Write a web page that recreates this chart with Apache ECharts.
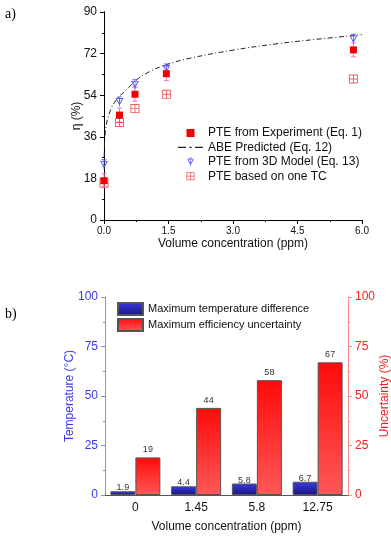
<!DOCTYPE html>
<html>
<head>
<meta charset="utf-8">
<script src="https://cdn.jsdelivr.net/npm/echarts@6/dist/echarts.min.js"></script>
<style>
  html, body { margin: 0; padding: 0; background: #fff; }
  #chart { width: 391px; height: 547px; }
</style>
</head>
<body>
<div id="chart"></div>
<script>
// (a) photothermal efficiency vs volume concentration
const concX = [0, 0.36, 0.72, 1.45, 5.8];
const pteExperiment = [17.0, 45.4, 54.4, 63.3, 73.6];
const pteExperimentErr = [3, 3, 3, 3, 3];
const pte3DModel = [24.1, 51.3, 58.7, 65.6, 78.4];
const pteOneTC = [16.0, 42.2, 48.2, 54.4, 61.0];
// ABE prediction, points
const abeX = [0.005, 0.03, 0.15, 0.33, 0.48, 0.75, 1.06, 1.45, 2.0, 3.0, 4.0, 5.0, 6.0];
const abeY = [27, 38, 47.5, 53, 55.5, 60.5, 64.2, 67.2, 70, 73.5, 76.2, 78.3, 80.2];
const xTicksTop = [0, 1.5, 3.0, 4.5, 6.0];

// (b) uncertainty bars
const concLabels = ["0", "1.45", "5.8", "12.75"];
const maxTempDiff = [1.9, 4.4, 5.8, 6.7];
const maxEffUnc = [19, 44, 58, 67];

const FONT = "Liberation Sans, Arial, sans-serif";

const SQUARE = "path://M0,0H10V10H0Z";
const BOX_CROSS =
  "path://M0,0H10V10H0Z M1,1V4.5H4.5V1Z M5.5,1V4.5H9V1Z M1,5.5V9H4.5V5.5Z M5.5,5.5V9H9V5.5Z";
const FUNNEL =
  "path://M2,0H8V1H2Z M4.5,0H5.5V12H4.5Z M0,2H10L5,11Z M1.9,3L5,8.6L8.1,3Z";
const DASH_DOT = "path://M0,0H7V1H0Z M10,0H12V1H10Z M15,0H22V1H15Z";

const errData = concX.map((x, i) => [
  x,
  pteExperiment[i] - pteExperimentErr[i],
  pteExperiment[i] + pteExperimentErr[i],
]);

const chart = echarts.init(document.getElementById("chart"), null, { renderer: "canvas" });

// mirrored axes that close the frame of panel (a)
const frameAxis = {
  axisLine: { show: true, lineStyle: { color: "#000" } },
  axisTick: { show: true, inside: true, length: 4, lineStyle: { color: "#000" } },
  minorTick: { show: true, splitNumber: 2, length: 2, lineStyle: { color: "#000" } },
  axisLabel: { show: false },
  splitLine: { show: false },
};

const option = {
  animation: false,
  title: [
    { text: "a)", left: 0, top: 2, textStyle: { fontFamily: "Liberation Serif, serif", fontSize: 14, fontWeight: "normal", color: "#000" } },
    { text: "b)", left: 0, top: 302, textStyle: { fontFamily: "Liberation Serif, serif", fontSize: 14, fontWeight: "normal", color: "#000" } },
  ],
  legend: [
    {
      left: 173,
      top: 122,
      orient: "vertical",
      itemWidth: 25,
      itemHeight: 8,
      itemGap: 2.4,
      symbolKeepAspect: true,
      textStyle: { fontFamily: FONT, fontSize: 12, color: "#111" },
      data: [
        { name: "PTE from Experiment (Eq. 1)", icon: SQUARE },
        { name: "ABE Predicted (Eq. 12)", icon: DASH_DOT },
        { name: "PTE from 3D Model (Eq. 13)", icon: FUNNEL },
        { name: "PTE based on one TC", icon: BOX_CROSS },
      ],
    },
    {
      left: 112,
      top: 297,
      orient: "vertical",
      itemWidth: 25,
      itemHeight: 12,
      itemGap: 2,
      textStyle: { fontFamily: FONT, fontSize: 11, color: "#111" },
      data: [
        { name: "Maximum temperature difference", icon: "rect" },
        { name: "Maximum efficiency uncertainty", icon: "rect" },
      ],
    },
  ],
  grid: [
    { left: 104, top: 12, width: 258, height: 208, outerBoundsMode: "none" },
    { left: 105, top: 297, width: 243, height: 198, outerBoundsMode: "none" },
  ],
  xAxis: [
    {
      gridIndex: 0,
      type: "value",
      min: 0,
      max: 6,
      interval: 1.5,
      name: "Volume concentration (ppm)",
      nameLocation: "middle",
      nameGap: 18,
      nameMoveOverlap: false,
      nameTextStyle: { fontFamily: FONT, fontSize: 12, color: "#111" },
      axisLine: { lineStyle: { color: "#000" } },
      axisTick: { length: 4, lineStyle: { color: "#000" } },
      minorTick: { show: true, splitNumber: 2, length: 2, lineStyle: { color: "#000" } },
      axisLabel: {
        fontFamily: FONT,
        fontSize: 10,
        color: "#111",
        margin: 6,
        customValues: xTicksTop,
        formatter: (v) => v.toFixed(1),
      },
      splitLine: { show: false },
    },
    Object.assign({ gridIndex: 0, type: "value", position: "top", min: 0, max: 6, interval: 1.5 }, frameAxis),
    {
      gridIndex: 1,
      type: "category",
      data: concLabels,
      name: "Volume concentration (ppm)",
      nameLocation: "middle",
      nameGap: 26,
      nameMoveOverlap: false,
      nameTextStyle: { fontFamily: FONT, fontSize: 12, color: "#111" },
      axisLine: { lineStyle: { color: "#555" } },
      axisTick: { length: 4, lineStyle: { color: "#555" } },
      axisLabel: { fontFamily: FONT, fontSize: 12, color: "#111", margin: 7 },
    },
  ],
  yAxis: [
    {
      gridIndex: 0,
      type: "value",
      min: 0,
      max: 90,
      interval: 18,
      name: "η (%)",
      nameLocation: "middle",
      nameGap: 21,
      nameMoveOverlap: false,
      nameTextStyle: { fontFamily: FONT, fontSize: 12, color: "#111" },
      axisLine: { show: true, lineStyle: { color: "#000" } },
      axisTick: { show: true, length: 4, lineStyle: { color: "#000" } },
      minorTick: { show: true, splitNumber: 2, length: 2, lineStyle: { color: "#000" } },
      axisLabel: { fontFamily: FONT, fontSize: 12, color: "#111", margin: 7 },
      splitLine: { show: false },
    },
    Object.assign({ gridIndex: 0, type: "value", position: "right", min: 0, max: 90, interval: 18 }, frameAxis),
    {
      gridIndex: 1,
      type: "value",
      min: 0,
      max: 100,
      interval: 25,
      name: "Temperature (°C)",
      nameLocation: "middle",
      nameGap: 29,
      nameMoveOverlap: false,
      nameTextStyle: { fontFamily: FONT, fontSize: 12, color: "#3a3ae6" },
      axisLine: { show: true, lineStyle: { color: "#8a8aff" } },
      axisTick: { show: true, length: 4, lineStyle: { color: "#8a8aff" } },
      minorTick: { show: true, splitNumber: 2, length: 2, lineStyle: { color: "#8a8aff" } },
      axisLabel: { fontFamily: FONT, fontSize: 12, color: "#3a3ae6", margin: 7 },
      splitLine: { show: false },
    },
    {
      gridIndex: 1,
      type: "value",
      position: "right",
      min: 0,
      max: 100,
      interval: 25,
      name: "Uncertainty (%)",
      nameLocation: "middle",
      nameGap: 31,
      nameMoveOverlap: false,
      nameTextStyle: { fontFamily: FONT, fontSize: 12, color: "#f02020" },
      axisLine: { show: true, lineStyle: { color: "#ff8a8a" } },
      axisTick: { show: true, length: 4, lineStyle: { color: "#ff8a8a" } },
      minorTick: { show: true, splitNumber: 2, length: 2, lineStyle: { color: "#ff8a8a" } },
      axisLabel: { fontFamily: FONT, fontSize: 12, color: "#f02020", margin: 7 },
      splitLine: { show: false },
    },
  ],
  series: [
    {
      name: "errorbars",
      type: "custom",
      xAxisIndex: 0,
      yAxisIndex: 0,
      z: 1,
      data: errData,
      renderItem: (params, api) => {
        const top = api.coord([api.value(0), api.value(2)]);
        const bot = api.coord([api.value(0), api.value(1)]);
        const style = { stroke: "#f070d0", lineWidth: 1 };
        return {
          type: "group",
          children: [
            { type: "line", shape: { x1: top[0], y1: top[1], x2: bot[0], y2: bot[1] }, style },
            { type: "line", shape: { x1: top[0] - 2.5, y1: top[1], x2: top[0] + 2.5, y2: top[1] }, style },
            { type: "line", shape: { x1: bot[0] - 2.5, y1: bot[1], x2: bot[0] + 2.5, y2: bot[1] }, style },
          ],
        };
      },
    },
    {
      name: "ABE Predicted (Eq. 12)",
      type: "line",
      xAxisIndex: 0,
      yAxisIndex: 0,
      smooth: 0.4,
      showSymbol: false,
      z: 2,
      data: abeX.map((x, i) => [x, abeY[i]]),
      itemStyle: { color: "#222" },
      lineStyle: { color: "#222", width: 1, type: [5, 2.5, 1, 2.5] },
    },
    {
      name: "PTE based on one TC",
      type: "scatter",
      xAxisIndex: 0,
      yAxisIndex: 0,
      symbol: BOX_CROSS,
      symbolSize: 9,
      z: 3,
      data: concX.map((x, i) => [x, pteOneTC[i]]),
      itemStyle: { color: "#ec5a5a", opacity: 1 },
    },
    {
      name: "PTE from 3D Model (Eq. 13)",
      type: "scatter",
      xAxisIndex: 0,
      yAxisIndex: 0,
      symbol: FUNNEL,
      symbolSize: [8, 10],
      z: 4,
      data: concX.map((x, i) => [x, pte3DModel[i]]),
      itemStyle: { color: "#5a5af0", opacity: 1 },
    },
    {
      name: "PTE from Experiment (Eq. 1)",
      type: "scatter",
      xAxisIndex: 0,
      yAxisIndex: 0,
      symbol: SQUARE,
      symbolSize: 7,
      z: 5,
      data: concX.map((x, i) => [x, pteExperiment[i]]),
      itemStyle: { color: "#f00000", opacity: 1 },
    },
    {
      name: "Maximum temperature difference",
      type: "bar",
      xAxisIndex: 2,
      yAxisIndex: 2,
      barWidth: 25,
      barGap: "0%",
      data: maxTempDiff,
      itemStyle: {
        color: {
          type: "linear", x: 0, y: 0, x2: 0, y2: 1,
          colorStops: [
            { offset: 0, color: "#3a3ae0" },
            { offset: 1, color: "#16167c" },
          ],
        },
        borderColor: "#555",
        borderWidth: 1,
      },
      label: { show: true, position: "top", distance: -1, fontFamily: FONT, fontSize: 9, color: "#333" },
    },
    {
      name: "Maximum efficiency uncertainty",
      type: "bar",
      xAxisIndex: 2,
      yAxisIndex: 3,
      barWidth: 25,
      barGap: "0%",
      data: maxEffUnc,
      itemStyle: {
        color: {
          type: "linear", x: 0, y: 0, x2: 0, y2: 1,
          colorStops: [
            { offset: 0, color: "#ff0a0a" },
            { offset: 1, color: "#ff5858" },
          ],
        },
        borderColor: "#555",
        borderWidth: 1,
      },
      label: { show: true, position: "top", distance: 3, fontFamily: FONT, fontSize: 9, color: "#333" },
    },
  ],
};

chart.setOption(option);
</script>
</body>
</html>
